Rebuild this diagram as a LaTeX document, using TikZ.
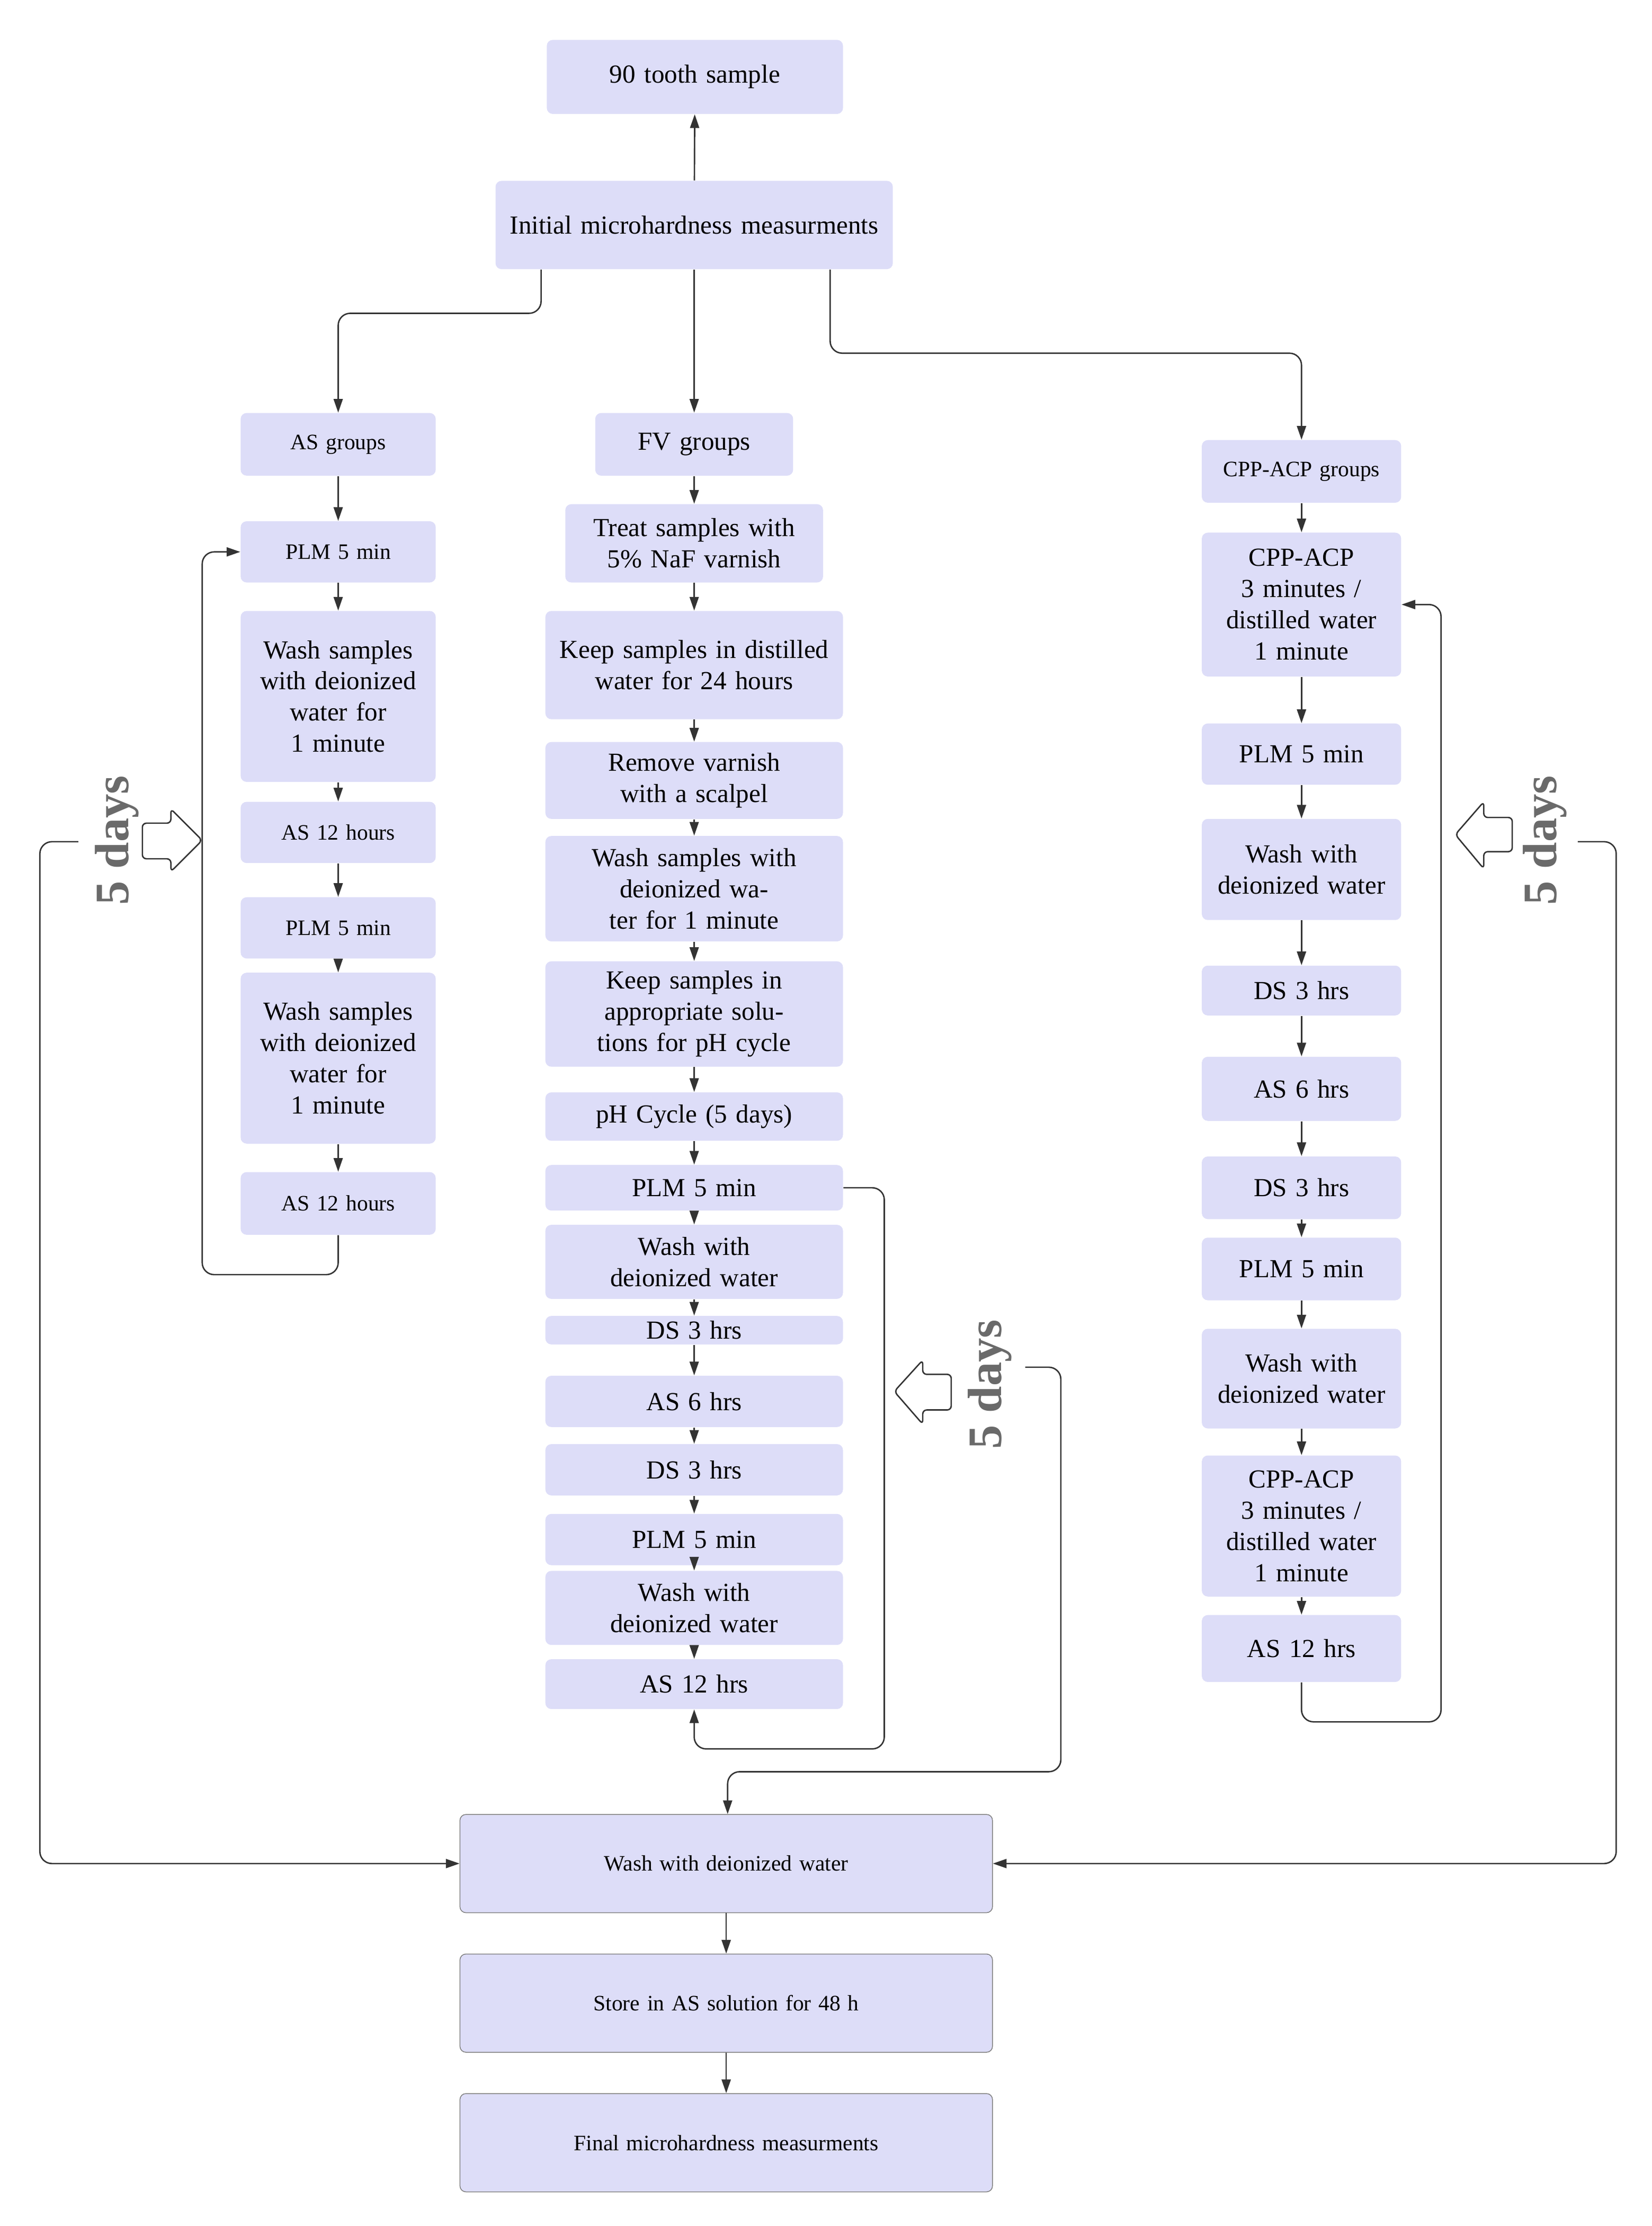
\documentclass[tikz,border=0pt]{standalone}
\usepackage{fontspec}
\setmainfont{Liberation Serif}
\usetikzlibrary{arrows.meta}
\definecolor{boxfill}{HTML}{DDDDF8}
\definecolor{linegray}{HTML}{333333}
\definecolor{daygray}{HTML}{6A6A6A}
\tikzset{
	box/.style={fill=boxfill, rounded corners=3pt, align=center, inner sep=0pt, font=\fontsize{13}{15.6}\selectfont},
	small/.style={font=\fontsize{11}{13.5}\selectfont},
	sz/.style 2 args={minimum width=#1*0.25mm, minimum height=#2*0.25mm, text width=#1*0.25mm-14pt},
	final/.style={draw=gray, thin},
	conn/.style={draw=linegray, line width=0.7pt, rounded corners=6pt, -{Triangle[length=2.4mm,width=1.6mm]}},
	line/.style={draw=linegray, line width=0.7pt, rounded corners=6pt},
	hollow/.style={draw=linegray, line width=0.7pt, rounded corners=2pt, fill=white},
	days/.style={font=\bfseries\fontsize{24}{24}\selectfont, text=daygray, rotate=90}
}
\begin{document}
\begin{tikzpicture}[x=0.25mm, y=-0.25mm]
	\useasboundingbox (0,0) rectangle (1160,1563);
	% top
	\node[box, sz={208}{52}] (tooth) at (488,54) {90 tooth sample};
	\node[box, sz={279}{62}] (init) at (487.5,158) {Initial microhardness measurments};
	\node[box, small, sz={137}{44}] (asg) at (237.5,312) {AS groups};
	\node[box, sz={139}{44}] (fvg) at (487.5,312) {FV groups};
	\node[box, small, sz={140}{44}] (cppg) at (914,331) {CPP-ACP groups};
	% AS column
	\node[box, small, sz={137}{43}] (asA) at (237.5,387.5) {PLM 5 min};
	\node[box, sz={137}{120}] (asB) at (237.5,489) {Wash samples with deionized water for 1 minute};
	\node[box, small, sz={137}{43}] (asC) at (237.5,584.5) {AS 12 hours};
	\node[box, small, sz={137}{43}] (asD) at (237.5,651.5) {PLM 5 min};
	\node[box, sz={137}{120}] (asE) at (237.5,743) {Wash samples with deionized water for 1 minute};
	\node[box, small, sz={137}{44}] (asF) at (237.5,845) {AS 12 hours};
	% FV column
	\node[box, sz={181}{55}] (fvA) at (487.5,381.5) {Treat samples with 5\% NaF varnish};
	\node[box, sz={209}{76}] (fvB) at (487.5,467) {Keep samples in distilled water for 24 hours};
	\node[box, sz={209}{54}] (fvC) at (487.5,548) {Remove varnish with a scalpel};
	\node[box, sz={209}{74}] (fvD) at (487.5,624) {Wash samples with deionized water for 1 minute};
	\node[box, sz={209}{74}] (fvE) at (487.5,712) {Keep samples in appropriate solutions for pH cycle};
	\node[box, sz={209}{34}] (fvF) at (487.5,784) {pH Cycle (5 days)};
	\node[box, sz={209}{32}] (fvG) at (487.5,834) {PLM 5 min};
	\node[box, sz={209}{52}] (fvH) at (487.5,886) {Wash with deionized water};
	\node[box, sz={209}{20}] (fvI) at (487.5,934) {DS 3 hrs};
	\node[box, sz={209}{36}] (fvJ) at (487.5,984) {AS 6 hrs};
	\node[box, sz={209}{36}] (fvK) at (487.5,1032) {DS 3 hrs};
	\node[box, sz={209}{36}] (fvL) at (487.5,1081) {PLM 5 min};
	\node[box, sz={209}{52}] (fvM) at (487.5,1129) {Wash with deionized water};
	\node[box, sz={209}{35}] (fvN) at (487.5,1182.5) {AS 12 hrs};
	% CPP-ACP column
	\node[box, sz={140}{101}] (cpA) at (914,424.5) {CPP-ACP 3 minutes / distilled water 1 minute};
	\node[box, sz={140}{43}] (cpB) at (914,529.5) {PLM 5 min};
	\node[box, sz={140}{71}] (cpC) at (914,610.5) {Wash with deionized water};
	\node[box, sz={140}{35}] (cpD) at (914,695.5) {DS 3 hrs};
	\node[box, sz={140}{45}] (cpE) at (914,764.5) {AS 6 hrs};
	\node[box, sz={140}{44}] (cpF) at (914,834) {DS 3 hrs};
	\node[box, sz={140}{44}] (cpG) at (914,891) {PLM 5 min};
	\node[box, sz={140}{70}] (cpH) at (914,968) {Wash with deionized water};
	\node[box, sz={140}{99}] (cpI) at (914,1071.5) {CPP-ACP 3 minutes / distilled water 1 minute};
	\node[box, sz={140}{47}] (cpJ) at (914,1157.5) {AS 12 hrs};
	% bottom
	\node[box, small, final, sz={374}{69}] (wash) at (510,1308.5) {Wash with deionized water};
	\node[box, small, final, sz={374}{69}] (store) at (510,1406.5) {Store in AS solution for 48 h};
	\node[box, small, final, sz={374}{69}] (fin) at (510,1504.5) {Final microhardness measurments};
	% connectors
	\draw[conn] (init) -- (tooth);
	\draw[conn] (init.south -| 380,0) |- (300,220) -| (asg);
	\draw[conn] (init) -- (fvg);
	\draw[conn] (init.south -| 583,0) |- (800,248) -| (cppg);
	\foreach \a/\b in {asg/asA, asA/asB, asB/asC, asC/asD, asD/asE, asE/asF,
		fvg/fvA, fvA/fvB, fvB/fvC, fvC/fvD, fvD/fvE, fvE/fvF, fvF/fvG, fvG/fvH,
		fvH/fvI, fvI/fvJ, fvJ/fvK, fvK/fvL, fvL/fvM, fvM/fvN,
		cppg/cpA, cpA/cpB, cpB/cpC, cpC/cpD, cpD/cpE, cpE/cpF, cpF/cpG, cpG/cpH,
		cpH/cpI, cpI/cpJ, wash/store, store/fin}
		\draw[conn] (\a) -- (\b);
	% loops
	\draw[conn] (asF.south) |- (190,895) -| (142,600) |- (asA.west);
	\draw[conn] (fvG.east) -| (621,1000) |- (550,1228) -| (fvN.south);
	\draw[conn] (cpJ.south) |- (960,1209) -| (1012,800) |- (cpA.east);
	% 5 day returns
	\coordinate (dL) at (55,591);
	\coordinate (dM) at (720,960);
	\coordinate (dR) at (1108,591);
	\draw[conn] (dL) -| (28,1000) |- (wash.west);
	\draw[conn] (dM) -| (745,1100) |- (600,1244) -| (wash.north -| 511,0);
	\draw[conn] (dR) -| (1135,1000) |- (wash.east);
	\draw[hollow] (100,578) -- (120,578) -- (120,568) -- (142,590) -- (120,612) -- (120,603) -- (100,603) -- cycle;
	\draw[hollow] (668,965) -- (648,965) -- (648,955) -- (628,977) -- (648,1000) -- (648,990) -- (668,990) -- cycle;
	\draw[hollow] (1062,574) -- (1042,574) -- (1042,563) -- (1022,586) -- (1042,610) -- (1042,598) -- (1062,598) -- cycle;
	\node[days] (dayL) at (82,590) {5 days};
	\node[days] (dayM) at (695,972) {5 days};
	\node[days] (dayR) at (1085,590) {5 days};
\end{tikzpicture}
\end{document}
